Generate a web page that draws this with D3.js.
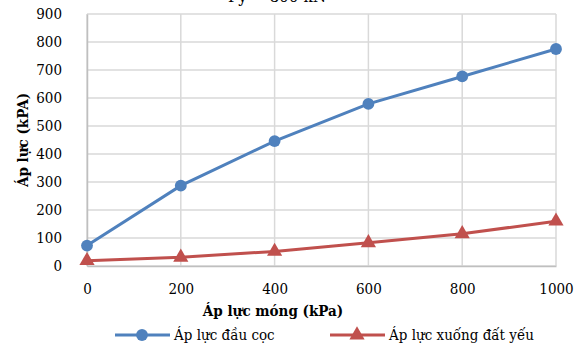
<!DOCTYPE html>
<html>
<head>
<meta charset="utf-8">
<script src="https://cdn.jsdelivr.net/npm/d3@7"></script>
<style>
	body { margin: 0; background: #fff; }
	svg text { font-family: 'DejaVu Serif Condensed', 'DejaVu Serif', serif !important; fill: #000; }
</style>
</head>
<body>
<div id="chart"></div>
<script>
var xValues = [0, 200, 400, 600, 800, 1000];
var dauCoc = [73, 287, 446, 579, 677, 775];
var datYeu = [19, 31, 52, 83, 115, 160];
var yTicks = [0, 100, 200, 300, 400, 500, 600, 700, 800, 900];
var xTicks = [0, 200, 400, 600, 800, 1000];
var seriesNames = ["Áp lực đầu cọc", "Áp lực xuống đất yếu"];

var width = 585, height = 345;
var margin = { top: 14, right: 29, bottom: 79, left: 87 };

var svg = d3.select("#chart").append("svg")
	.attr("width", width)
	.attr("height", height);

var x = d3.scaleLinear().domain([0, 1000]).range([margin.left, width - margin.right]);
var y = d3.scaleLinear().domain([0, 900]).range([height - margin.bottom, margin.top]);

// grid
svg.append("g").selectAll("line").data(yTicks).enter().append("line")
	.attr("x1", x(0)).attr("x2", x(1000))
	.attr("y1", function(d) { return y(d); }).attr("y2", function(d) { return y(d); })
	.attr("stroke", "#d9d9d9").attr("stroke-width", 1.5);
svg.append("g").selectAll("line").data(xTicks).enter().append("line")
	.attr("y1", y(0)).attr("y2", y(900))
	.attr("x1", function(d) { return x(d); }).attr("x2", function(d) { return x(d); })
	.attr("stroke", "#d9d9d9").attr("stroke-width", 1.5);

// axes
var yAxis = svg.append("g").attr("transform", "translate(" + x(0) + ",0)")
	.call(d3.axisLeft(y).tickValues(yTicks).tickSize(0).tickPadding(25).tickFormat(d3.format("d")));
var xAxis = svg.append("g").attr("transform", "translate(0," + y(0) + ")")
	.call(d3.axisBottom(x).tickValues(xTicks).tickSize(0).tickPadding(17).tickFormat(d3.format("d")));
[yAxis, xAxis].forEach(function(a) {
	a.attr("font-family", null).attr("font-size", null);
	a.select(".domain").attr("stroke", "#bfbfbf").attr("stroke-width", 1.5);
	a.selectAll("text").style("font-size", "15px").attr("fill", "#000");
});

// title (cut off at top, as in the source image)
svg.append("text")
	.attr("x", 277).attr("y", 2)
	.attr("text-anchor", "middle")
	.style("font-size", "17px")
	.text("Py = 800 kN");

// axis titles
svg.append("text")
	.attr("transform", "translate(28,140) rotate(-90)")
	.attr("text-anchor", "middle")
	.style("font-size", "15px").style("font-weight", "bold")
	.text("Áp lực (kPA)");
svg.append("text")
	.attr("x", 273).attr("y", 316)
	.attr("text-anchor", "middle")
	.style("font-size", "15px").style("font-weight", "bold")
	.text("Áp lực móng (kPa)");

var line = d3.line()
	.x(function(d, i) { return x(xValues[i]); })
	.y(function(d) { return y(d); });

var colors = ["#4f81bd", "#c0504d"];
var series = [dauCoc, datYeu];

series.forEach(function(s, k) {
	svg.append("path").datum(s)
		.attr("d", line)
		.attr("fill", "none")
		.attr("stroke", colors[k])
		.attr("stroke-width", 3);
	var sym = k == 0 ? d3.symbolCircle : d3.symbolTriangle;
	var sz = k == 0 ? 110 : 100;
	svg.append("g").selectAll("path").data(s).enter().append("path")
		.attr("d", d3.symbol().type(sym).size(sz))
		.attr("transform", function(d, i) { return "translate(" + x(xValues[i]) + "," + y(d) + ")"; })
		.attr("fill", colors[k]);
});

// legend
var legendX = [115, 330];
seriesNames.forEach(function(name, k) {
	var g = svg.append("g").attr("transform", "translate(" + legendX[k] + ",335)");
	g.append("line").attr("x1", 0).attr("x2", 55).attr("y1", 0).attr("y2", 0)
		.attr("stroke", colors[k]).attr("stroke-width", 3);
	g.append("path")
		.attr("d", d3.symbol().type(k == 0 ? d3.symbolCircle : d3.symbolTriangle).size(k == 0 ? 110 : 100))
		.attr("transform", "translate(27,0)")
		.attr("fill", colors[k]);
	g.append("text").attr("x", 59).attr("y", 5)
		.style("font-size", "15px")
		.text(name);
});
</script>
</body>
</html>
